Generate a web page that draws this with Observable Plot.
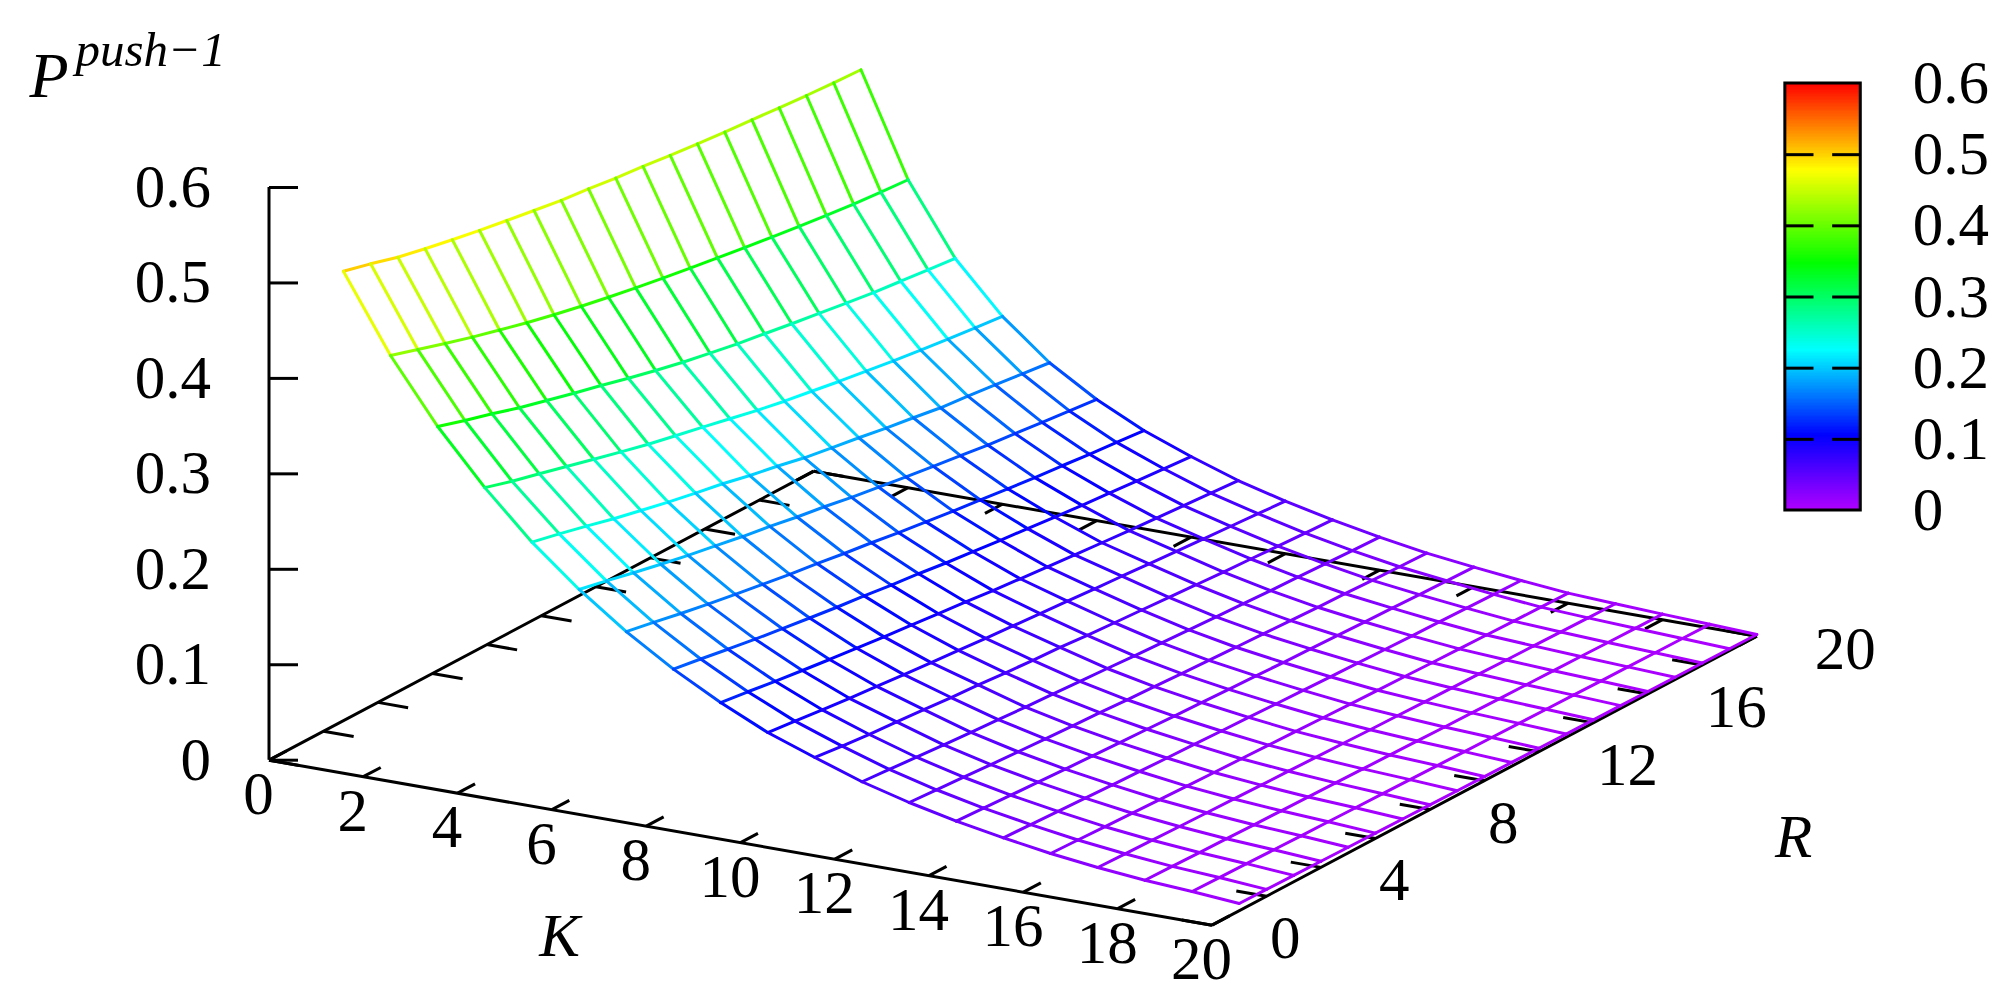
<!DOCTYPE html>
<html>
<head>
<meta charset="utf-8">
<style>html,body{margin:0;padding:0;background:#fff;overflow:hidden}svg{display:block}</style>
<script src="https://cdn.jsdelivr.net/npm/d3@7"></script>
<script src="https://cdn.jsdelivr.net/npm/@observablehq/plot@0.6"></script>
</head>
<body>
<div id="chart"></div>
<script>
const kValues = [1,2,3,4,5,6,7,8,9,10,11,12,13,14,15,16,17,18,19,20];
const rValues = [1,2,3,4,5,6,7,8,9,10,11,12,13,14,15,16,17,18,19,20];
const pK01 = [.5058,.4984,.4902,.4839,.4782,.4728,.4681,.4634,.4588,.4559,.4519,.4490,.4454,.4425,.4395,.4373,.4348,.4325,.4307,.4292];
const pK02 = [.4261,.4172,.4085,.4000,.3923,.3848,.3780,.3718,.3660,.3607,.3558,.3512,.3467,.3423,.3382,.3343,.3307,.3273,.3248,.3226];
const pK03 = [.3604,.3515,.3434,.3346,.3271,.3196,.3125,.3050,.2980,.2915,.2858,.2805,.2759,.2712,.2670,.2625,.2585,.2552,.2520,.2488];
const pK04 = [.3050,.2966,.2892,.2817,.2742,.2668,.2596,.2534,.2472,.2409,.2346,.2290,.2243,.2194,.2151,.2107,.2069,.2031,.1999,.1968];
const pK05 = [.2565,.2501,.2430,.2356,.2291,.2227,.2170,.2117,.2052,.1998,.1935,.1888,.1842,.1791,.1749,.1702,.1672,.1640,.1604,.1568];
const pK06 = [.2156,.2094,.2028,.1966,.1908,.1855,.1802,.1757,.1704,.1660,.1607,.1562,.1518,.1478,.1438,.1398,.1367,.1332,.1301,.1270];
const pK07 = [.1800,.1746,.1688,.1635,.1585,.1539,.1492,.1454,.1408,.1369,.1323,.1285,.1246,.1212,.1177,.1143,.1116,.1085,.1058,.1031];
const pK08 = [.1494,.1449,.1400,.1354,.1312,.1273,.1234,.1202,.1163,.1131,.1092,.1059,.1027,.0998,.0968,.0939,.0916,.0890,.0868,.0845];
const pK09 = [.1230,.1192,.1150,.1112,.1076,.1043,.1010,.0983,.0950,.0922,.0889,.0862,.0834,.0809,.0785,.0760,.0741,.0719,.0699,.0680];
const pK10 = [.1003,.0971,.0938,.0907,.0880,.0853,.0827,.0803,.0778,.0757,.0735,.0713,.0692,.0672,.0651,.0629,.0610,.0590,.0570,.0550];
const pK11 = [.0828,.0795,.0766,.0747,.0724,.0699,.0680,.0655,.0635,.0619,.0594,.0574,.0556,.0538,.0518,.0499,.0485,.0468,.0454,.0441];
const pK12 = [.0660,.0638,.0614,.0592,.0572,.0553,.0534,.0519,.0500,.0484,.0465,.0450,.0434,.0420,.0406,.0392,.0381,.0368,.0357,.0346];
const pK13 = [.0529,.0511,.0491,.0472,.0455,.0439,.0423,.0410,.0394,.0381,.0365,.0352,.0339,.0327,.0315,.0303,.0294,.0283,.0274,.0265];
const pK14 = [.0420,.0405,.0389,.0374,.0360,.0347,.0334,.0323,.0310,.0300,.0287,.0276,.0265,.0256,.0246,.0236,.0229,.0220,.0213,.0205];
const pK15 = [.0332,.0319,.0306,.0293,.0281,.0270,.0260,.0251,.0240,.0231,.0220,.0211,.0202,.0194,.0185,.0177,.0171,.0164,.0157,.0151];
const pK16 = [.0254,.0244,.0232,.0222,.0212,.0203,.0194,.0187,.0178,.0171,.0162,.0154,.0147,.0140,.0133,.0127,.0121,.0115,.0110,.0105];
const pK17 = [.0194,.0186,.0177,.0169,.0162,.0155,.0148,.0143,.0136,.0130,.0123,.0118,.0112,.0107,.0102,.0097,.0093,.0088,.0084,.0080];
const pK18 = [.0147,.0141,.0134,.0128,.0122,.0117,.0111,.0107,.0102,.0097,.0092,.0087,.0083,.0079,.0075,.0071,.0068,.0064,.0061,.0058];
const pK19 = [.0115,.0110,.0104,.0098,.0093,.0089,.0084,.0080,.0076,.0072,.0067,.0063,.0060,.0056,.0053,.0049,.0046,.0043,.0041,.0038];
const pK20 = [.0076,.0072,.0068,.0064,.0060,.0056,.0053,.0050,.0046,.0043,.0040,.0037,.0034,.0032,.0029,.0026,.0024,.0022,.0020,.0018];
const rows = [pK01,pK02,pK03,pK04,pK05,pK06,pK07,pK08,pK09,pK10,pK11,pK12,pK13,pK14,pK15,pK16,pK17,pK18,pK19,pK20];

const kTicks = [0,2,4,6,8,10,12,14,16,18,20];
const rTicks = [0,2,4,6,8,10,12,14,16,18,20];
const rLabels = [0,4,8,12,16,20];
const zTicks = [0,0.1,0.2,0.3,0.4,0.5,0.6];

const W = 2005, H = 1006;
const originX = 268.5, originY = 759.7;
const pxPerK = 47.15, pxPerZ = 954.5;
// Oblique view: screen axes are measured in K units across and P units up.
const rToX = 0.57773, rToY = 0.01514, kToY = -0.008643;
const X = (k, r) => k + r * rToX;
const Y = (k, r, z) => z + r * rToY + k * kToY;

const xDomain = [-originX / pxPerK, (W - originX) / pxPerK];
const yDomain = [(originY - H) / pxPerZ, originY / pxPerZ];

const link = (a, b, extra = {}) => ({x1: X(a[0], a[1]), y1: Y(a[0], a[1], a[2] ?? 0), x2: X(b[0], b[1]), y2: Y(b[0], b[1], b[2] ?? 0), ...extra});

// wireframe
const segments = [];
rows.forEach((row, i) => row.forEach((z, j) => {
  const k = kValues[i], r = rValues[j];
  if (j < row.length - 1) segments.push(link([k, r, z], [k, rValues[j + 1], row[j + 1]], {z: (z + row[j + 1]) / 2}));
  if (i < rows.length - 1) segments.push(link([k, r, z], [kValues[i + 1], r, rows[i + 1][j]], {z: (z + rows[i + 1][j]) / 2}));
}));

const base = [
  link([0, 0], [20, 0]), link([20, 0], [20, 20]), link([20, 20], [0, 20]), link([0, 20], [0, 0])
];
const tickK = 0.64, tickR = 0.64;
const tickLinks = [
  ...kTicks.map(k => link([k, 0], [k, tickR])),
  ...kTicks.map(k => link([k, 20], [k, 20 - tickR])),
  ...rTicks.map(r => link([0, r], [tickK, r])),
  ...rTicks.map(r => link([20, r], [20 - tickK, r]))
];

// colour bar, in the same frame
const barX1 = 32.16, barX2 = 33.76, barGap1 = 32.757, barGap2 = 33.153;
const barY = z => 0.2616 + z * 0.7456;
const levels = d3.range(0, 0.6, 0.002);

const label = {fontFamily: "Liberation Serif", fontSize: 61, fill: "#000"};
const at = (text, x, y, extra = {}) => Plot.text([text], {frameAnchor: "top-left", dx: x, dy: y, textAnchor: "middle", lineAnchor: "middle", ...label, ...extra});

const chart = Plot.plot({
  width: W, height: H,
  marginTop: 0, marginRight: 0, marginBottom: 0, marginLeft: 0,
  x: {domain: xDomain, axis: null},
  y: {domain: yDomain, axis: null},
  color: {
    type: "linear",
    domain: [0, 0.105, 0.225, 0.347, 0.478, 0.6],
    range: ["#b000ff", "#0000ff", "#00ffff", "#00ff00", "#ffff00", "#ff0000"]
  },
  marks: [
    // base box and its ticks
    Plot.link(base, {x1: "x1", y1: "y1", x2: "x2", y2: "y2", stroke: "#000", strokeWidth: 3}),
    Plot.link(tickLinks, {x1: "x1", y1: "y1", x2: "x2", y2: "y2", stroke: "#000", strokeWidth: 3}),
    // vertical axis
    Plot.ruleX([0], {y1: 0, y2: 0.6, stroke: "#000", strokeWidth: 3}),
    Plot.link(zTicks, {x1: 0, x2: 29 / pxPerK, y1: d => d, y2: d => d, stroke: "#000", strokeWidth: 3}),
    Plot.text(zTicks, {x: 0, y: d => d, text: d => String(d), dx: -58, textAnchor: "end", lineAnchor: "middle", ...label}),
    Plot.text(kTicks, {x: d => X(d, 0), y: d => Y(d, 0, 0), text: d => String(d), dx: -10.5, dy: 34.5, textAnchor: "middle", lineAnchor: "middle", ...label}),
    Plot.text(rLabels, {x: d => X(20, d), y: d => Y(20, d, 0), text: d => String(d), dx: 58, dy: 13.5, textAnchor: "start", lineAnchor: "middle", ...label}),
    // surface
    Plot.link(segments, {x1: "x1", y1: "y1", x2: "x2", y2: "y2", stroke: "z", strokeWidth: 3, strokeLinecap: "round"}),
    // colour bar
    Plot.rect(levels, {x1: barX1, x2: barX2, y1: d => barY(d), y2: d => barY(d + 0.0021), fill: d => d + 0.001, shapeRendering: "crispEdges"}),
    Plot.link(zTicks.slice(1, -1), {x1: barX1, x2: barGap1, y1: d => barY(d), y2: d => barY(d), stroke: "#000", strokeWidth: 3}),
    Plot.link(zTicks.slice(1, -1), {x1: barGap2, x2: barX2, y1: d => barY(d), y2: d => barY(d), stroke: "#000", strokeWidth: 3}),
    Plot.rect([0], {x1: barX1, x2: barX2, y1: barY(0), y2: barY(0.6), fill: "none", stroke: "#000", strokeWidth: 3}),
    Plot.text(zTicks, {x: barX2, y: d => barY(d), text: d => String(d), dx: 52, textAnchor: "start", lineAnchor: "middle", ...label}),
    // axis titles
    at("K", 559, 936, {fontStyle: "italic"}),
    at("R", 1793, 837, {fontStyle: "italic"}),
    at("P", 29, 96, {fontStyle: "italic", fontSize: 64, textAnchor: "start", lineAnchor: "bottom"}),
    at("push\u22121", 75, 65, {fontStyle: "italic", fontSize: 49, textAnchor: "start", lineAnchor: "bottom"})
  ]
});
document.getElementById("chart").appendChild(chart);
</script>
</body>
</html>
